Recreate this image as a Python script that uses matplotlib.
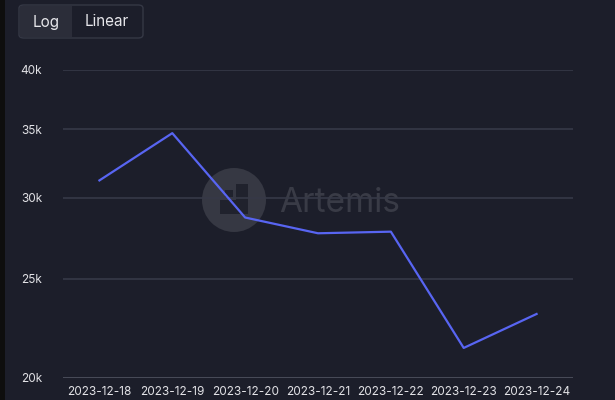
import matplotlib
matplotlib.use("Agg")
import matplotlib.pyplot as plt
from matplotlib.patches import Ellipse, FancyBboxPatch, Rectangle

dates = ["2023-12-18", "2023-12-19", "2023-12-20", "2023-12-21",
         "2023-12-22", "2023-12-23", "2023-12-24"]
values = [31200, 34700, 28700, 27700, 27800, 21400, 23100]
yticks = [20000, 25000, 30000, 35000, 40000]
ytick_labels = ["20k", "25k", "30k", "35k", "40k"]

bg = "#1c1e2a"
plt.rcParams["font.family"] = ["Inter", "DejaVu Sans"]

W, H = 615, 400
fig = plt.figure(figsize=(6.15, 4.0), dpi=100, facecolor=bg)
ax = fig.add_axes([63 / W, 22 / H, 510 / W, 308 / H])
ax.set_zorder(2)
ax.patch.set_alpha(0)


def px_rect(x0, y0, x1, y1, color, z=0):
    # rectangle given in image pixels (y from top)
    fig.patches.append(Rectangle((x0 / W, 1 - y1 / H), (x1 - x0) / W, (y1 - y0) / H,
                                 transform=fig.transFigure, facecolor=color,
                                 edgecolor="none", zorder=z))


# watermark, under the axes
fig.patches.append(Ellipse((234 / W, 1 - 200 / H), 64 / W, 64 / H, transform=fig.transFigure,
                           facecolor="#363843", edgecolor="none", zorder=0))
logo = "#20222d"
px_rect(236, 184, 248, 214, logo, 1)
px_rect(220, 200, 236, 214, logo, 1)
px_rect(225, 190, 233, 197, logo, 1)
fig.text(279 / W, 1 - 203 / H, "Artemis", color="#393b46", fontsize=24,
         va="center", ha="left", zorder=0)

ax.plot(range(len(dates)), values, color="#5865f2", lw=1.6, zorder=3)
ax.set_yscale("log")
ax.set_ylim(20000, 40000)
ax.set_xlim(-0.5, len(dates) - 0.5)
ax.set_yticks(yticks)
ax.set_yticklabels(ytick_labels)
ax.yaxis.set_minor_locator(matplotlib.ticker.NullLocator())
ax.set_xticks(range(len(dates)))
ax.set_xticklabels(dates)
ax.tick_params(axis="both", length=0, colors="#e2e2e6", labelsize=8.5)
ax.tick_params(axis="y", pad=15)
ax.tick_params(axis="x", pad=6)
ax.grid(axis="y", color="#363947", lw=1.2)
for s in ax.spines.values():
    s.set_visible(False)
ax.axhline(20000, color="#4a4d5a", lw=2, zorder=2)

# log / linear toggle
fig.patches.append(FancyBboxPatch((19 / W, 1 - 38 / H), 124 / W, 33 / H,
                                  boxstyle="round,pad=0,rounding_size=0.008",
                                  transform=fig.transFigure, facecolor=bg,
                                  edgecolor="#353845", lw=1, zorder=3))
px_rect(20, 6, 72, 37, "#2b2d39", 4)
fig.text(46 / W, 1 - 22 / H, "Log", color="#e6e6ea", fontsize=11, ha="center", va="center", zorder=5)
fig.text(107 / W, 1 - 22 / H, "Linear", color="#e6e6ea", fontsize=11, ha="center", va="center", zorder=5)

# dark strip at left edge
px_rect(0, 0, 5, H, "#0e0e0e", 5)

fig.savefig("out.png", dpi=100, facecolor=bg)
